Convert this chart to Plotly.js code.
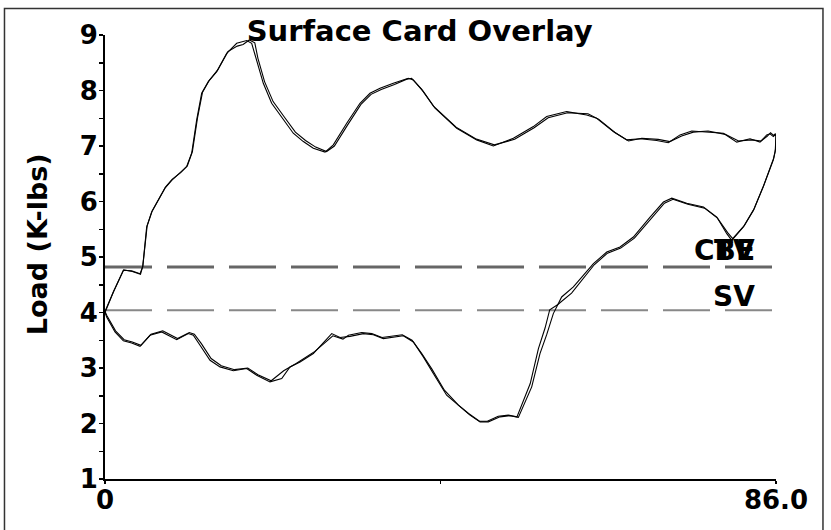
<!DOCTYPE html>
<html>
<head>
<meta charset="utf-8">
<script src="https://cdn.plot.ly/plotly-3.0.1.min.js"></script>
<style>
html,body{margin:0;padding:0;background:#fff;}
#chart{width:831px;height:530px;}
</style>
</head>
<body>
<div id="chart"></div>
<script>
// Card 1 (position in inches, load in K-lbs)
var posA = [0,1.07,2.35,3.42,4.49,4.83,5.34,5.98,6.84,7.69,8.55,9.61,10.47,11.11,11.75,12.39,13.24,14.32,15.60,16.88,18.16,18.80,19.44,20.29,21.36,22.85,24.13,25.42,26.70,28.20,29.26,30.98,32.68,33.96,35.25,36.95,38.87,39.52,40.80,42.30,45.08,47.64,49.77,52.34,54.90,56.61,59.17,61.74,63.02,65.15,66.87,68.57,70.71,72.2,73.7,75.2,77.12,79.26,80.97,82.67,83.95,84.81,85.23,85.66,85.88,86.0,
  85.9,85.66,84.38,83.10,81.82,80.33,79.69,78.41,76.70,74.56,72.64,71.57,69.86,67.72,66.01,64.31,62.6,61.3,60.03,58.53,57.46,56.61,55.75,54.69,53.62,52.98,51.91,50.63,49.13,48.07,46.78,45.5,43.79,42.08,40.80,39.52,38.23,35.67,34.39,33.11,31.40,30.12,29.06,26.70,25.0,23.71,22.65,21.15,19.44,18.16,16.45,14.74,13.46,12.18,11.32,10.68,9.19,7.27,5.77,4.49,3.42,2.35,1.28,0.21,0];
var loadA = [4.0,4.37,4.76,4.75,4.70,4.82,5.54,5.81,6.03,6.24,6.38,6.51,6.63,6.87,7.47,7.95,8.16,8.34,8.67,8.85,8.90,8.85,8.55,8.13,7.77,7.47,7.23,7.08,6.96,6.89,7.02,7.41,7.77,7.95,8.04,8.13,8.22,8.19,7.98,7.68,7.32,7.11,7.00,7.14,7.35,7.53,7.62,7.56,7.50,7.26,7.11,7.13,7.10,7.06,7.20,7.27,7.25,7.23,7.07,7.13,7.07,7.20,7.22,7.17,7.20,7.18,
  6.90,6.75,6.27,5.84,5.54,5.30,5.42,5.72,5.90,5.97,6.06,5.99,5.72,5.36,5.18,5.09,4.88,4.67,4.46,4.28,3.98,3.60,3.26,2.66,2.30,2.11,2.14,2.12,2.03,2.03,2.15,2.30,2.51,2.90,3.20,3.47,3.58,3.53,3.60,3.62,3.57,3.55,3.62,3.26,3.11,3.02,2.81,2.75,2.87,2.99,2.95,3.02,3.14,3.41,3.59,3.62,3.51,3.65,3.59,3.39,3.45,3.49,3.65,3.92,4.0];
// Card 2
var posB = [0,1.10,2.40,3.50,4.55,4.85,5.40,6.05,6.90,7.75,8.60,9.70,10.55,11.20,11.85,12.50,13.35,14.45,15.75,16.95,17.70,18.50,19.20,19.60,20.45,21.55,23.10,24.40,25.70,27.00,28.40,29.40,31.10,32.80,34.10,35.40,37.10,38.60,39.30,40.60,42.10,45.00,47.50,49.90,52.50,55.00,56.80,59.30,61.90,63.30,65.40,67.10,68.80,70.90,72.40,73.90,75.40,77.30,79.50,81.20,82.90,84.10,84.90,85.30,85.70,85.90,86.0,
  85.95,85.70,84.45,83.20,81.95,80.45,79.80,78.50,76.85,74.70,72.80,71.70,70.00,67.85,66.10,64.40,62.70,61.20,59.80,58.00,57.00,56.40,55.55,54.50,53.45,52.80,51.70,50.40,49.00,48.00,46.60,45.30,43.50,41.90,40.60,39.35,38.10,35.50,34.20,32.90,31.20,30.50,29.20,26.90,24.50,22.90,21.30,19.60,18.30,16.60,14.90,13.60,12.35,11.45,10.80,9.30,7.40,5.90,4.60,3.50,2.45,1.35,0.25,0];
var loadB = [4.02,4.38,4.77,4.74,4.69,4.84,5.56,5.83,6.04,6.26,6.40,6.52,6.64,6.90,7.50,7.97,8.18,8.37,8.70,8.80,8.83,8.91,8.86,8.58,8.16,7.80,7.50,7.25,7.10,6.98,6.90,7.00,7.38,7.75,7.93,8.02,8.11,8.20,8.22,8.02,7.72,7.34,7.13,7.02,7.12,7.33,7.51,7.60,7.58,7.48,7.24,7.09,7.14,7.12,7.08,7.18,7.25,7.27,7.21,7.09,7.11,7.09,7.18,7.24,7.19,7.22,7.20,
  6.95,6.78,6.30,5.87,5.57,5.33,5.44,5.70,5.88,5.95,6.04,5.97,5.70,5.34,5.16,5.07,4.86,4.60,4.35,4.14,4.05,3.72,3.35,2.72,2.34,2.12,2.15,2.13,2.04,2.04,2.18,2.33,2.60,2.98,3.26,3.50,3.60,3.55,3.62,3.64,3.59,3.52,3.58,3.30,3.08,2.95,2.77,2.88,3.00,2.97,3.04,3.17,3.44,3.61,3.64,3.53,3.67,3.61,3.41,3.47,3.51,3.67,3.94,4.02];

var cbeLoad = 4.82;
var svLoad = 4.04;
var xRange = [0, 86];
var yRange = [1, 9];
var xTickVals = [0, 43, 86];
var xTickText = ['0', '', '86.0'];
var yTickVals = [1,2,3,4,5,6,7,8,9];

var boldFont = 'DejaVu Sans, Arial, sans-serif';

var traces = [
  {x: xRange, y: [cbeLoad, cbeLoad], mode: 'lines', line: {color: '#666666', width: 3, dash: '47px,15px'}, hoverinfo: 'skip'},
  {x: xRange, y: [svLoad, svLoad], mode: 'lines', line: {color: '#888888', width: 2, dash: '47px,15px'}, hoverinfo: 'skip'},
  {x: posA, y: loadA, mode: 'lines', line: {color: '#000000', width: 1.1}},
  {x: posB, y: loadB, mode: 'lines', line: {color: '#000000', width: 1.1}}
];

var layout = {
  width: 831, height: 530,
  margin: {l: 105, r: 55, t: 35, b: 51},
  paper_bgcolor: '#ffffff', plot_bgcolor: '#ffffff',
  showlegend: false,
  title: {text: '<b>Surface Card Overlay</b>', x: 0.505, xref: 'container', xanchor: 'center', y: 0.942, yref: 'container', yanchor: 'middle', font: {family: boldFont, size: 29, color: '#000'}},
  xaxis: {range: xRange, showgrid: false, zeroline: false, showline: true, linecolor: '#000', linewidth: 2,
    tickmode: 'array', tickvals: xTickVals, ticktext: xTickText, ticks: 'outside', ticklen: 3, tickwidth: 1.5, tickcolor: '#000',
    ticklabelstandoff: -6,
    tickfont: {family: boldFont, size: 26, color: '#000', weight: 'bold'}},
  yaxis: {range: yRange, showgrid: false, zeroline: false, showline: true, linecolor: '#000', linewidth: 2,
    tickmode: 'array', tickvals: yTickVals, ticks: 'outside', ticklen: 4, tickwidth: 1.5, tickcolor: '#000',
    ticklabelstandoff: -4,
    minor: {dtick: 0.5, ticks: 'outside', ticklen: 4, tickwidth: 1.5, tickcolor: '#000', showgrid: false},
    tickfont: {family: boldFont, size: 26, color: '#000', weight: 'bold'}},
  shapes: [
    {type: 'rect', xref: 'paper', yref: 'paper', x0: -0.1498, x1: 1.070, y0: -0.16, y1: 1.0597, line: {color: '#333', width: 1.5}, fillcolor: 'rgba(0,0,0,0)', layer: 'below'}
  ],
  annotations: [
    {text: '<b>CBE</b>', x: 83.56, y: 5.12, xref: 'x', yref: 'y', xanchor: 'right', yanchor: 'middle', showarrow: false, font: {family: boldFont, size: 28, color: '#000'}},
    {text: '<b>TV</b>', x: 83.56, y: 5.12, xref: 'x', yref: 'y', xanchor: 'right', yanchor: 'middle', showarrow: false, font: {family: boldFont, size: 28, color: '#000'}},
    {text: '<b>SV</b>', x: 83.56, y: 4.29, xref: 'x', yref: 'y', xanchor: 'right', yanchor: 'middle', showarrow: false, font: {family: boldFont, size: 28, color: '#000'}},
    {text: '<b>Load (K-lbs)</b>', x: -0.1013, y: 0.529, xref: 'paper', yref: 'paper', xanchor: 'center', yanchor: 'middle', textangle: -90, showarrow: false, font: {family: boldFont, size: 27, color: '#000'}},
    {text: '<b>Position (in)</b>', x: 0.5, y: -0.108, xref: 'paper', yref: 'paper', xanchor: 'center', yanchor: 'top', showarrow: false, font: {family: boldFont, size: 27, color: '#000'}}
  ]
};

Plotly.newPlot('chart', traces, layout, {staticPlot: true, displayModeBar: false});
</script>
</body>
</html>
